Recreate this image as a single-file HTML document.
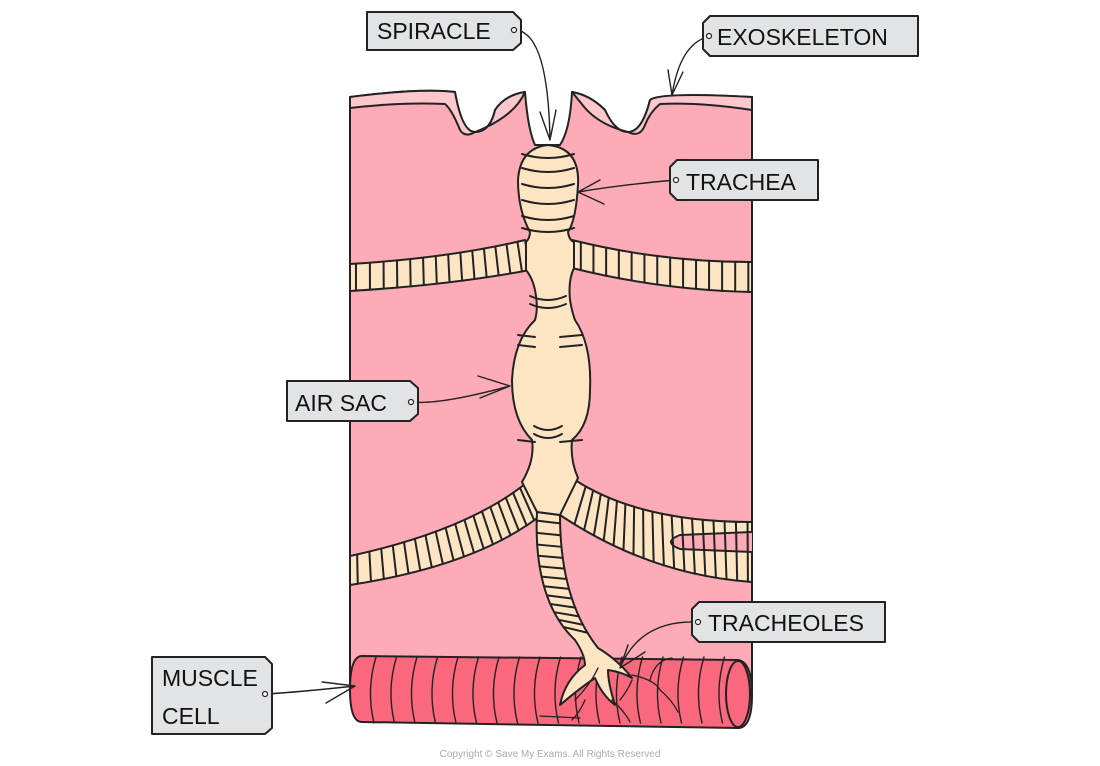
<!DOCTYPE html>
<html><head><meta charset="utf-8"><style>
html,body{margin:0;padding:0;background:#fff;}
svg{display:block;}
text{font-family:"Liberation Sans",sans-serif;}
</style></head><body>
<svg id="s" width="1100" height="766" viewBox="0 0 1100 766" xmlns="http://www.w3.org/2000/svg">
<g stroke="#222" stroke-width="2" stroke-linejoin="round" stroke-linecap="round">
<path d="M350,97 Q420,88 455,92 Q462,132 475,132 Q490,132 495,110 Q505,95 525,92 Q528,130 535,145 L560,145 Q570,130 572,92 Q590,95 605,110 Q615,132 628,132 Q642,132 650,100 Q660,92 752,97 L752,690 L350,690 Z" fill="#fdabb7"/>
<path d="M350,97 Q420,88 455,92 Q462,132 475,132 Q465,138 460,130 Q452,110 445,104 Q400,102 350,108 Z" fill="#fcc7cd"/>
<path d="M475,132 Q490,132 495,110 Q505,95 525,92 Q515,115 480,130 Z" fill="#fcc7cd"/>
<path d="M572,92 Q590,95 605,110 Q615,132 628,132 Q600,125 585,108 Z" fill="#fcc7cd"/>
<path d="M628,132 Q642,132 650,100 Q660,92 752,97 L752,110 Q700,102 660,104 Q650,112 645,125 Q640,138 628,132 Z" fill="#fcc7cd"/>
<path d="M350,264 Q450,258 525,240 L530,270 Q450,285 350,291 Z" fill="#fde4c3"/>
<path d="M572,240 Q660,262 752,262 L752,292 Q660,290 572,268 Z" fill="#fde4c3"/>
<path d="M350,556 Q470,530 530,480 L545,512 Q480,565 350,585 Z" fill="#fde4c3"/>
<path d="M575,480 Q640,522 752,522 L752,582 Q650,575 560,515 Z" fill="#fde4c3"/>
<path d="M752,532 L680,535 Q662,542 680,549 L752,552" fill="#fdabb7"/>
<path d="M362,656 L738,660 Q752,662 752,695 Q752,728 738,728 L362,722 Q350,722 350,690 Q350,656 362,656 Z" fill="#f9687c"/>
<ellipse cx="738" cy="694" rx="12" ry="33" fill="none"/>
<g id="ms" fill="none"></g>
<path d="M537,512 Q533,600 575,640 Q585,655 585,665 Q565,680 560,705 Q580,688 595,678 Q602,695 615,705 Q608,683 608,670 Q622,672 632,678 Q618,660 598,648 Q560,600 560,515 Z" fill="#fde4c3"/>
<path d="M548,145 Q580,148 578,185 Q576,220 568,232 Q569,240 574,242 L574,268 Q568,280 570,300 Q572,312 575,320 Q592,345 590,390 Q590,425 572,440 Q570,460 578,478 L560,515 L537,512 L522,482 Q535,460 532,440 Q512,420 512,380 Q514,340 535,320 Q538,310 536,296 Q534,280 526,270 L526,242 Q530,238 530,232 Q518,210 518,180 Q520,148 548,145 Z" fill="#fde4c3"/>
<g id="stripes" fill="none"></g>
<path d="M598,668 Q590,685 575,700 M585,700 Q580,712 572,720 M540,716 L580,718 M612,700 Q625,712 630,722 M632,675 Q655,680 660,690 M650,680 Q655,660 672,658 M660,690 Q672,700 678,712 M620,700 Q628,690 632,680" fill="none" stroke-width="1.3"/>
<path d="M514,30 Q548,30 550,140 M540,112 L550,140 L556,110" fill="none" stroke-width="1.4"/>
<path d="M707,37 Q680,45 672,95 M668,70 L672,95 L683,72" fill="none" stroke-width="1.4"/>
<path d="M675,180 Q620,185 578,192 M600,180 L578,192 L604,204" fill="none" stroke-width="1.4"/>
<path d="M412,402 Q440,405 510,386 M478,376 L510,386 L480,398" fill="none" stroke-width="1.4"/>
<path d="M697,622 Q640,620 620,668 M628,645 L620,668 L645,652" fill="none" stroke-width="1.4"/>
<path d="M266,694 Q300,692 355,686 M322,682 L355,686 L326,703" fill="none" stroke-width="1.4"/>
<g fill="#e2e3e4">
<path d="M367,12 L513,12 L521,20 L521,43 L513,50 L367,50 Z"/>
<path d="M710,16 L918,16 L918,56 L710,56 L703,49 L703,23 Z"/>
<path d="M677,160 L818,160 L818,200 L677,200 L670,193 L670,167 Z"/>
<path d="M287,381 L410,381 L418,388 L418,414 L410,421 L287,421 Z"/>
<path d="M699,602 L885,602 L885,642 L699,642 L692,635 L692,609 Z"/>
<path d="M152,657 L265,657 L272,664 L272,728 L265,734 L152,734 Z"/>
</g>
<g fill="#fff" stroke-width="1.2">
<circle cx="514" cy="30" r="2.5"/><circle cx="709" cy="36" r="2.5"/><circle cx="676" cy="180" r="2.5"/>
<circle cx="411" cy="402" r="2.5"/><circle cx="698" cy="622" r="2.5"/><circle cx="265" cy="694" r="2.5"/>
</g>
</g>
<g font-size="23" fill="#111">
<text x="377" y="39">SPIRACLE</text>
<text x="717" y="45">EXOSKELETON</text>
<text x="686" y="190">TRACHEA</text>
<text x="295" y="411">AIR SAC</text>
<text x="708" y="631">TRACHEOLES</text>
<text x="162" y="686">MUSCLE</text>
<text x="162" y="724">CELL</text>
</g>
<text x="550" y="757" font-size="10" fill="#aaa" text-anchor="middle">Copyright © Save My Exams. All Rights Reserved</text>
</svg>
<script>
var NS="http://www.w3.org/2000/svg";
function q(p0,p1,p2,t){var u=1-t;return[u*u*p0[0]+2*u*t*p1[0]+t*t*p2[0],u*u*p0[1]+2*u*t*p1[1]+t*t*p2[1]];}
function st(g,a,b,n,t0,t1){for(var i=0;i<n;i++){var t=t0+(t1-t0)*i/(n-1);var A=q(a[0],a[1],a[2],t),B=q(b[0],b[1],b[2],t);
var l=document.createElementNS(NS,"line");l.setAttribute("x1",A[0]);l.setAttribute("y1",A[1]);l.setAttribute("x2",B[0]);l.setAttribute("y2",B[1]);g.appendChild(l);}}
var g=document.getElementById("stripes");
st(g,[[350,264],[450,258],[525,240]],[[350,291],[450,285],[530,270]],14,0.03,0.95);
st(g,[[572,240],[660,262],[752,262]],[[572,268],[660,290],[752,292]],14,0.05,0.98);
st(g,[[350,556],[470,530],[530,480]],[[350,585],[480,565],[545,512]],18,0.03,0.92);
st(g,[[575,480],[640,522],[752,522]],[[560,515],[650,575],[752,582]],18,0.08,0.98);
st(g,[[537,512],[533,600],[575,640]],[[560,515],[560,600],[598,648]],12,0.05,0.85);
[[156],[170],[186],[202],[218],[230],[298],[306],[428],[436]].forEach(function(y){y=y[0];
var l=document.createElementNS(NS,"path");var w=(y<240)?26:(y<320?18:14);
l.setAttribute("d","M"+(548-w)+","+(y-2)+" Q548,"+(y+6)+" "+(548+w)+","+(y-2));g.appendChild(l);});
[[335],[345],[440]].forEach(function(y){y=y[0];var l=document.createElementNS(NS,"path");
l.setAttribute("d","M518,"+y+" L535,"+(y+2)+" M560,"+(y+2)+" L582,"+y);g.appendChild(l);});
var m=document.getElementById("ms");
for(var x=372;x<728;x+=20.5){var p=document.createElementNS(NS,"path");
p.setAttribute("d","M"+(x+4)+",657 Q"+(x-6)+",690 "+(x+2)+",723");p.setAttribute("stroke-width","1.4");m.appendChild(p);}
</script>
</body></html>
